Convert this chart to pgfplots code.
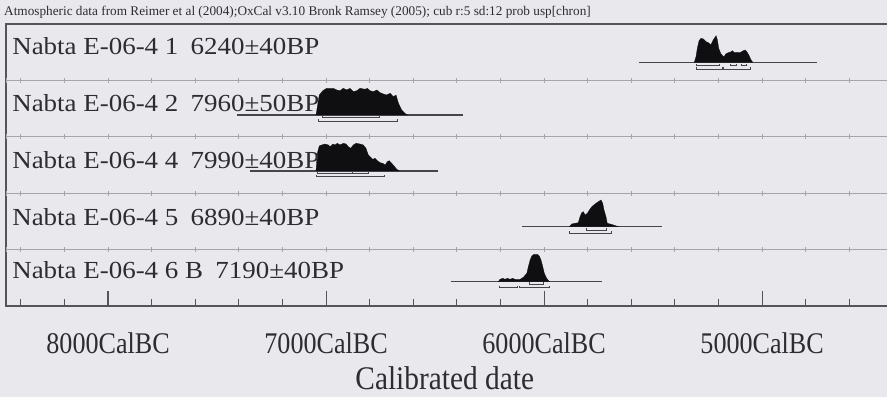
\documentclass[border=0pt]{standalone}
\usepackage{pgfplots}
\pgfplotsset{compat=1.18}
\usepackage{pgfplotstable}
\usepackage{fontspec}
\setmainfont{Liberation Serif}
\newfontfamily\rowfont[FakeStretch=1.10]{Liberation Serif}
\newfontfamily\tickfont[FakeStretch=0.87]{Liberation Serif}
\newfontfamily\labfont[FakeStretch=0.89]{Liberation Serif}
\definecolor{bgcol}{RGB}{233,233,237}
\definecolor{framecol}{RGB}{85,85,88}
\definecolor{sepcol}{RGB}{165,165,171}
\definecolor{textcol}{RGB}{45,45,48}
\definecolor{distcol}{RGB}{15,15,18}
\definecolor{brcol}{RGB}{70,70,74}

\pgfplotstableread{
x y
-8468 0
-8400 0
-8200 0
-8000 0
-7800 0
-7600 0
-7400 0
-7200 0
-7000 0
-6800 0
-6600 0
-6400 0
-6200 0
-6000 0
-5800 0
-5600 0
-5400 0
-5200 0
-5000 0
-4800 0
-4600 0
-4427 0
}\gridx

\begin{document}
\begin{tikzpicture}
\path[use as bounding box, fill=bgcol] (0pt,0pt) rectangle (887pt,397pt);
\node[anchor=base west, inner sep=0pt, text=textcol, font=\fontsize{13.25}{15}\selectfont] at (4pt,381pt)
  {Atmospheric data from Reimer et al (2004);OxCal v3.10 Bronk Ramsey (2005); cub r:5 sd:12 prob usp[chron]};
\begin{axis}[
  at={(6pt,91pt)}, anchor=south west,
  scale only axis, width=881pt, height=282pt,
  xmin=-8468, xmax=-4427, ymin=0, ymax=5,
  clip=false,
  axis line style={draw=none},
  ytick=\empty,
  xtick={-8000,-7000,-6000,-5000},
  xticklabels={8000CalBC,7000CalBC,6000CalBC,5000CalBC},
  minor xtick={-8400,-8200,-7800,-7600,-7400,-7200,-6800,-6600,-6400,-6200,-5800,-5600,-5400,-5200,-4800,-4600},
  xtick pos=bottom, tick align=inside,
  major tick length=15pt, minor tick length=7pt,
  tick style={framecol, line width=1.1pt},
  xticklabel style={font=\tickfont\fontsize{30}{32}\selectfont, anchor=base, yshift=-47pt, text=textcol},
  xlabel={Calibrated date},
  xlabel style={at={(axis description cs:0.498,0)}, anchor=base, yshift=-83pt, font=\labfont\fontsize{33}{36}\selectfont, text=textcol},
]
% row separators with small ticks
\addplot[sepcol, line width=0.8pt, mark=|, mark size=2.5pt, mark options={sepcol, line width=0.8pt}] table[x=x, y expr=1] {\gridx};
\addplot[sepcol, line width=0.8pt, mark=|, mark size=2.5pt, mark options={sepcol, line width=0.8pt}] table[x=x, y expr=2] {\gridx};
\addplot[sepcol, line width=0.8pt, mark=|, mark size=2.5pt, mark options={sepcol, line width=0.8pt}] table[x=x, y expr=3] {\gridx};
\addplot[sepcol, line width=0.8pt, mark=|, mark size=2.5pt, mark options={sepcol, line width=0.8pt}] table[x=x, y expr=4] {\gridx};
% baselines
\addplot[brcol, line width=1.2pt] coordinates {(-5564,4.321) (-4749,4.321)};
\addplot[brcol, line width=1.2pt] coordinates {(-7408,3.387) (-6372,3.387)};
\addplot[brcol, line width=1.2pt] coordinates {(-7349,2.394) (-6486,2.394)};
\addplot[brcol, line width=1.2pt] coordinates {(-6102,1.406) (-5457,1.406)};
\addplot[brcol, line width=1.2pt] coordinates {(-6428,0.431) (-5735,0.431)};
% distributions
\addplot[fill=distcol, draw=distcol, line width=0.3pt] coordinates {
(-5311,4.321) (-5303,4.420) (-5297,4.569) (-5289,4.704) (-5280,4.746) (-5269,4.734) (-5257,4.686) (-5246,4.668) (-5235,4.628) (-5226,4.704) (-5219,4.746) (-5211,4.793) (-5205,4.716) (-5199,4.569) (-5190,4.480) (-5180,4.433) (-5174,4.420) (-5167,4.468) (-5155,4.491) (-5144,4.504) (-5136,4.527) (-5129,4.498) (-5116,4.498) (-5101,4.491) (-5086,4.527) (-5077,4.539) (-5070,4.509) (-5061,4.450) (-5052,4.374) (-5043,4.321)
} -- cycle;
\addplot[fill=distcol, draw=distcol, line width=0.3pt] coordinates {
(-7046,3.387) (-7031,3.741) (-7015,3.817) (-6997,3.860) (-6967,3.860) (-6951,3.830) (-6936,3.817) (-6921,3.860) (-6905,3.830) (-6890,3.860) (-6875,3.800) (-6859,3.817) (-6844,3.860) (-6821,3.842) (-6811,3.860) (-6798,3.817) (-6783,3.800) (-6767,3.830) (-6752,3.782) (-6737,3.759) (-6722,3.741) (-6706,3.771) (-6691,3.711) (-6679,3.741) (-6668,3.594) (-6653,3.475) (-6633,3.399) (-6625,3.387)
} -- cycle;
\addplot[fill=distcol, draw=distcol, line width=0.3pt] coordinates {
(-7046,2.394) (-7040,2.707) (-7031,2.837) (-7020,2.855) (-7005,2.872) (-6989,2.855) (-6982,2.824) (-6969,2.872) (-6959,2.855) (-6948,2.885) (-6936,2.855) (-6921,2.885) (-6908,2.872) (-6898,2.824) (-6887,2.796) (-6875,2.855) (-6862,2.885) (-6844,2.872) (-6829,2.855) (-6817,2.796) (-6806,2.677) (-6798,2.647) (-6786,2.601) (-6775,2.619) (-6765,2.576) (-6752,2.541) (-6740,2.530) (-6729,2.500) (-6719,2.559) (-6710,2.576) (-6699,2.530) (-6688,2.482) (-6676,2.424) (-6664,2.394)
} -- cycle;
\addplot[fill=distcol, draw=distcol, line width=0.3pt] coordinates {
(-5884,1.406) (-5873,1.454) (-5858,1.466) (-5843,1.477) (-5835,1.583) (-5827,1.654) (-5820,1.672) (-5812,1.613) (-5801,1.644) (-5792,1.702) (-5781,1.761) (-5766,1.809) (-5751,1.849) (-5739,1.879) (-5731,1.821) (-5725,1.702) (-5716,1.583) (-5710,1.466) (-5697,1.454) (-5682,1.436) (-5659,1.406)
} -- cycle;
\addplot[fill=distcol, draw=distcol, line width=0.3pt] coordinates {
(-6210,0.431) (-6202,0.473) (-6189,0.491) (-6179,0.473) (-6168,0.491) (-6156,0.473) (-6144,0.491) (-6133,0.473) (-6110,0.473) (-6095,0.509) (-6079,0.580) (-6072,0.697) (-6064,0.816) (-6056,0.887) (-6046,0.917) (-6031,0.917) (-6022,0.887) (-6014,0.816) (-6006,0.697) (-5999,0.580) (-5988,0.491) (-5976,0.431)
} -- cycle;
% range brackets
\pgfplotsset{br/.style={brcol, line width=0.9pt}}
% row 1
\addplot[br] coordinates {(-5303,4.296) (-5303,4.261) (-5196,4.261) (-5196,4.296)};
\addplot[br] coordinates {(-5144,4.296) (-5144,4.261) (-5119,4.261) (-5119,4.296)};
\addplot[br] coordinates {(-5093,4.296) (-5093,4.261) (-5070,4.261) (-5070,4.296)};
\addplot[br] coordinates {(-5303,4.232) (-5303,4.197) (-5180,4.197) (-5180,4.232)};
\addplot[br] coordinates {(-5176,4.232) (-5176,4.197) (-5052,4.197) (-5052,4.232)};
% row 2
\addplot[br] coordinates {(-7015,3.374) (-7015,3.339) (-6756,3.339) (-6756,3.374)};
\addplot[br] coordinates {(-7035,3.315) (-7035,3.280) (-6673,3.280) (-6673,3.315)};
% row 3
\addplot[br] coordinates {(-7040,2.388) (-7040,2.353) (-6878,2.353) (-6878,2.388)};
\addplot[br] coordinates {(-6878,2.388) (-6878,2.353) (-6806,2.353) (-6806,2.388)};
\addplot[br] coordinates {(-7046,2.328) (-7046,2.293) (-6734,2.293) (-6734,2.328)};
% row 4
\addplot[br] coordinates {(-5804,1.383) (-5804,1.348) (-5716,1.348) (-5716,1.383)};
\addplot[br] coordinates {(-5884,1.324) (-5884,1.289) (-5693,1.289) (-5693,1.324)};
% row 5
\addplot[br] coordinates {(-6068,0.420) (-6068,0.385) (-6003,0.385) (-6003,0.420)};
\addplot[br] coordinates {(-6206,0.359) (-6206,0.324) (-6123,0.324) (-6123,0.359)};
\addplot[br] coordinates {(-6113,0.359) (-6113,0.324) (-5976,0.324) (-5976,0.359)};
% frame (left, top, bottom)
\draw[framecol, line width=1.2pt] (rel axis cs:1,1) -- (rel axis cs:0,1) -- (rel axis cs:0,0) -- (rel axis cs:1,0);
% row labels
\begin{scope}[every node/.style={anchor=base west, inner sep=0pt, text=textcol, font=\rowfont\fontsize{24.5}{28}\selectfont}]
\node at (axis cs:-8440,4.468) {Nabta E-06-4 1\hspace{0.5em}6240±40BP};
\node at (axis cs:-8440,3.440) {Nabta E-06-4 2\hspace{0.5em}7960±50BP};
\node at (axis cs:-8440,2.430) {Nabta E-06-4 4\hspace{0.5em}7990±40BP};
\node at (axis cs:-8440,1.420) {Nabta E-06-4 5\hspace{0.5em}6890±40BP};
\node at (axis cs:-8440,0.480) {Nabta E-06-4 6 B\hspace{0.5em}7190±40BP};
\end{scope}
\end{axis}
\end{tikzpicture}
\end{document}
